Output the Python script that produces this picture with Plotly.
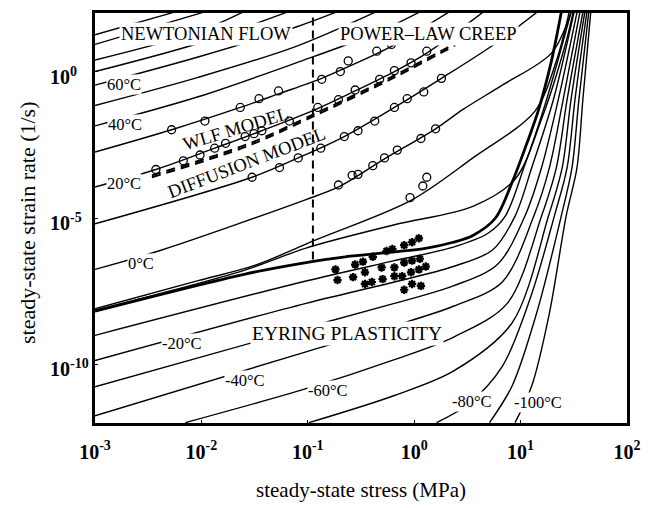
import numpy as np
import plotly.graph_objects as go

# All values are log10(stress / MPa) and log10(strain rate / s^-1).
# ---- isotherms exiting through the top (high temperatures) ----
iso1_x = [-3.0, -2.262];                      iso1_y = [1.258, 2.02]
iso2_x = [-3.0, -1.985];                      iso2_y = [0.927, 2.02]
iso3_x = [-3.0, -2.031, -1.616];              iso3_y = [0.397, 1.358, 2.02]
iso4_x = [-3.0, -2.031, -1.201];              iso4_y = [0.0, 0.96, 2.02]
iso60_x = [-3.0, -2.031, -1.109, -0.74];      iso60_y = [-0.464, 0.497, 1.523, 2.02]
iso50_x = [-3.0, -2.031, -1.109, -0.371];     iso50_y = [-1.159, -0.199, 0.861, 2.02]
iso40_x = [-3.0, -2.031, -1.109, -0.371, 0.044]
iso40_y = [-1.854, -0.861, 0.298, 1.291, 2.02]
iso30_x = [-3.0, -2.28, -1.635, -1.275, -0.869, -0.62, -0.214, 0.321]
iso30_y = [-2.748, -1.987, -1.225, -0.762, -0.232, 0.166, 0.861, 2.02]
iso20_x = [-3.0, -2.428, -1.875, -1.432, -0.924, -0.555, -0.186, 0.118, 0.644]
iso20_y = [-3.94, -3.344, -2.616, -2.02, -1.291, -0.662, 0.0, 0.629, 2.02]
iso10_x = [-3.0, -1.524, -1.09, -0.657, -0.186, 0.256, 0.764, 1.151]
iso10_y = [-5.199, -3.609, -2.947, -2.219, -1.225, -0.232, 0.96, 2.02]
iso0_x = [-3.0, -2.373, -1.017, -0.712, -0.279, 0.201, 0.459, 0.828, 1.29, 1.474]
iso0_y = [-6.755, -6.093, -4.371, -3.94, -2.98, -1.954, -1.291, -0.464, 0.629, 2.02]
isoL_x = [-3.0, -2.031, -1.5, -0.924, -0.03, 0.552, 1.133, 1.336, 1.456]
isoL_y = [-8.10, -7.14, -6.62, -5.75, -4.40, -2.947, -1.358, 0.364, 2.02]
isoM_x = [-3.0, -1.598, -1.017, -0.186, 0.552, 0.948, 1.197, 1.428, 1.493]
isoM_y = [-8.15, -6.788, -6.026, -5.232, -4.603, -3.675, -1.623, 1.026, 2.02]
# ---- isotherms bending into the high-stress fan (low temperatures) ----
isoN_x = [-3.0, -1.017, -0.186, 0.367, 0.690, 0.856, 1.031, 1.244, 1.474]
isoN_y = [-9.007, -7.152, -6.457, -5.993, -5.53, -4.934, -3.278, -0.96, 2.02]
isom20_x = [-3.0, -1.017, -0.186, 0.367, 0.736, 0.948, 1.105, 1.308, 1.502]
isom20_y = [-9.868, -7.914, -7.185, -6.656, -6.093, -4.934, -3.278, -0.96, 2.02]
isom30_x = [-3.0, -1.017, -0.186, 0.367, 0.782, 1.041, 1.197, 1.354, 1.530]
isom30_y = [-10.762, -8.742, -7.914, -7.318, -6.589, -4.934, -3.278, -0.96, 2.02]
isom40_x = [-3.0, -1.017, -0.186, 0.367, 0.828, 1.124, 1.271, 1.400, 1.557]
isom40_y = [-11.755, -9.57, -8.675, -8.013, -7.185, -4.934, -3.278, -0.96, 2.02]
isom60_x = [-2.151, -1.017, -0.186, 0.367, 0.875, 1.197, 1.336, 1.437, 1.585]
isom60_y = [-11.987, -10.828, -9.834, -9.073, -7.914, -4.934, -3.278, -0.96, 2.02]
isom70_x = [-0.989, -0.186, 0.367, 0.921, 1.262, 1.391, 1.474, 1.603]
isom70_y = [-11.987, -11.06, -10.232, -8.576, -4.934, -3.278, -0.96, 2.02]
isom80_x = [0.210, 0.506, 0.828, 1.105, 1.317, 1.437, 1.511, 1.622]
isom80_y = [-11.987, -11.358, -10.066, -7.583, -4.934, -3.278, -0.96, 2.02]
isom90_x = [0.708, 0.921, 1.151, 1.382, 1.483, 1.548, 1.640]
isom90_y = [-11.987, -10.728, -8.245, -4.934, -3.278, -0.96, 2.02]
isom100_x = [0.948, 1.105, 1.271, 1.428, 1.530, 1.585, 1.659]
isom100_y = [-11.987, -10.728, -8.245, -4.934, -3.278, -0.96, 2.02]

# ---- thick boundary (Newtonian / Eyring / power law) ----
bound_x = [-3.0, -1.598, -1.017, -0.648, -0.186, 0.118, 0.367, 0.552, 0.764, 0.921, 1.059, 1.17, 1.29, 1.382]
bound_y = [-8.179, -6.921, -6.523, -6.325, -6.159, -6.026, -5.828, -5.596, -5.0, -3.775, -2.45, -1.291, 0.364, 2.02]

# ---- model curves (dashed) ----
wlf_x = [-2.465, -1.57, -0.924, -0.186, 0.386]
wlf_y = [-3.543, -2.483, -1.424, -0.132, 0.96]
diff_x = [-2.465, -1.57, -0.924, -0.186, 0.386]
diff_y = [-3.61, -2.55, -1.49, -0.20, 0.90]
divide_x = [-0.952, -0.952]
divide_y = [-6.42, 2.02]

# ---- measured points: open circles ----
circA_x = [-2.28, -1.967, -1.635, -1.459, -1.275, -0.869, -0.694, -0.62, -0.352, -0.214]
circA_y = [-1.987, -1.689, -1.225, -0.927, -0.662, -0.265, 0.0, 0.364, 0.695, 0.927]
circB_x = [-2.428, -2.17, -2.013, -1.875, -1.773, -1.589, -1.506, -1.432, -1.173, -0.906,
           -0.712, -0.555, -0.325, -0.186, -0.03, 0.118]
circB_y = [-3.344, -3.046, -2.848, -2.616, -2.45, -2.219, -2.119, -2.02, -1.689, -1.225,
           -0.96, -0.629, -0.265, 0.033, 0.298, 0.695]
circC_x = [-1.524, -1.266, -1.09, -0.878, -0.657, -0.528, -0.371, -0.186, -0.066, 0.09, 0.256]
circC_y = [-3.609, -3.278, -2.947, -2.616, -2.219, -2.02, -1.689, -1.225, -0.927, -0.695, -0.232]
circD_x = [-0.712, -0.583, -0.528, -0.389, -0.279, -0.159, 0.063, 0.201]
circD_y = [-3.874, -3.543, -3.51, -3.212, -2.947, -2.682, -2.285, -1.954]
circE_x = [-0.039, 0.081, 0.118]
circE_y = [-4.305, -3.907, -3.609]
# ---- measured points: asterisks ----
star_x = [-0.74, -0.555, -0.482, -0.389, -0.26, -0.205, -0.094, -0.02, 0.044,
          -0.721, -0.574, -0.463, -0.306, -0.186, -0.094, -0.02, 0.053,
          -0.463, -0.398, -0.297, -0.186, -0.113, -0.03, 0.044, 0.109,
          -0.094, -0.02, 0.063]
star_y = [-6.755, -6.589, -6.49, -6.325, -6.126, -6.06, -5.927, -5.828, -5.695,
          -7.119, -7.02, -6.854, -6.689, -6.689, -6.523, -6.457, -6.391,
          -7.252, -7.185, -7.086, -6.987, -6.987, -6.854, -6.755, -6.656,
          -7.45, -7.252, -7.318]

x_ticks = [-3, -2, -1, 0, 1, 2]
y_ticks = [-10, -5, 0]

def v(a):
    return 10 ** np.array(a, dtype=float)

fig = go.Figure()
thin = [(iso1_x, iso1_y), (iso2_x, iso2_y), (iso3_x, iso3_y), (iso4_x, iso4_y),
        (iso60_x, iso60_y), (iso50_x, iso50_y), (iso40_x, iso40_y), (iso30_x, iso30_y),
        (iso20_x, iso20_y), (iso10_x, iso10_y), (iso0_x, iso0_y), (isoL_x, isoL_y),
        (isoM_x, isoM_y), (isoN_x, isoN_y), (isom20_x, isom20_y), (isom30_x, isom30_y),
        (isom40_x, isom40_y), (isom60_x, isom60_y), (isom70_x, isom70_y),
        (isom80_x, isom80_y), (isom90_x, isom90_y), (isom100_x, isom100_y)]
for cx, cy in thin:
    fig.add_trace(go.Scatter(x=v(cx), y=v(cy), mode="lines", hoverinfo="skip",
                             line=dict(color="black", width=1.4, shape="spline", smoothing=0.9)))
fig.add_trace(go.Scatter(x=v(bound_x), y=v(bound_y), mode="lines",
                         line=dict(color="black", width=2.8, shape="spline", smoothing=0.9)))
for cx, cy in [(wlf_x, wlf_y), (diff_x, diff_y)]:
    fig.add_trace(go.Scatter(x=v(cx), y=v(cy), mode="lines",
                             line=dict(color="black", width=2.0, dash="9px,6px",
                                       shape="spline", smoothing=0.9)))
fig.add_trace(go.Scatter(x=v(divide_x), y=v(divide_y), mode="lines",
                         line=dict(color="black", width=2.0, dash="8px,5px")))
for cx, cy in [(circA_x, circA_y), (circB_x, circB_y), (circC_x, circC_y),
               (circD_x, circD_y), (circE_x, circE_y)]:
    fig.add_trace(go.Scatter(x=v(cx), y=v(cy), mode="markers",
                             marker=dict(symbol="circle-open", size=8, color="black",
                                         line=dict(width=1.3, color="black"))))
fig.add_trace(go.Scatter(x=v(star_x), y=v(star_y), mode="markers",
                         marker=dict(symbol="asterisk", size=7, color="black",
                                     line=dict(width=2.2, color="black"))))

serif = "Liberation Serif, Times New Roman, serif"
region_labels = [("NEWTONIAN FLOW", -1.958, 1.30, 0, 18.5),
                 ("POWER\u2013LAW CREEP", 0.137, 1.30, 0, 18.5),
                 ("WLF MODEL", -1.681, -1.954, -17, 18.5),
                 ("DIFFUSION MODEL", -1.579, -3.113, -21, 18.5),
                 ("EYRING PLASTICITY", -0.63, -8.93, 0, 19.5)]
temp_labels = [("60\u00b0C", -2.723, -0.43), ("40\u00b0C", -2.714, -1.80),
               ("20\u00b0C", -2.732, -3.82), ("0\u00b0C", -2.566, -6.56),
               ("-20\u00b0C", -2.179, -9.30), ("-40\u00b0C", -1.589, -10.56),
               ("-60\u00b0C", -0.814, -10.89), ("-80\u00b0C", 0.54, -11.28),
               ("-100\u00b0C", 1.16, -11.30)]
for t, x, y, ang, fs in region_labels:
    fig.add_annotation(x=x, y=y, text=t, showarrow=False, textangle=ang,
                       font=dict(family=serif, size=fs, color="black"),
                       bgcolor="white" if ang == 0 else "rgba(0,0,0,0)", borderpad=1)
for t, x, y in temp_labels:
    fig.add_annotation(x=x, y=y, text=t, showarrow=False,
                       font=dict(family=serif, size=16.5, color="black"),
                       bgcolor="white", borderpad=0)
# y tick labels, left aligned as in the original
for k in y_ticks:
    fig.add_annotation(xref="paper", x=-0.089, xanchor="left", yref="y", y=k, yanchor="middle",
                       yshift=-4, text="<b>10<sup>%d</sup></b>" % k, showarrow=False,
                       font=dict(family=serif, size=20, color="black"))

fig.update_xaxes(type="log", range=[-3, 2], tickvals=[10.0 ** k for k in x_ticks],
                 ticktext=["<b>10<sup>%d</sup></b>" % k for k in x_ticks],
                 showline=True, linewidth=2.5, linecolor="black", mirror=True,
                 ticks="inside", ticklen=3, tickcolor="black", showgrid=False, zeroline=False,
                 tickfont=dict(family=serif, size=20, color="black"), ticklabelstandoff=9,
                 title=dict(text="steady-state stress (MPa)", standoff=21,
                            font=dict(family=serif, size=21, color="black")))
fig.update_yaxes(type="log", range=[-12, 2], tickvals=[10.0 ** k for k in y_ticks],
                 showline=True, linewidth=2.5, linecolor="black", mirror=True,
                 ticks="inside", ticklen=3, tickcolor="black", showgrid=False, zeroline=False,
                 showticklabels=False)
fig.add_annotation(xref="paper", yref="paper", x=-0.128, y=0.49, xanchor="center", yanchor="middle",
                   text="steady-state strain rate (1/s)", textangle=-90, showarrow=False,
                   font=dict(family=serif, size=22, color="black"))
fig.update_layout(width=651, height=508, margin=dict(l=95, r=14, t=10, b=75),
                  paper_bgcolor="white", plot_bgcolor="white", showlegend=False)
fig.write_html("out.html")
